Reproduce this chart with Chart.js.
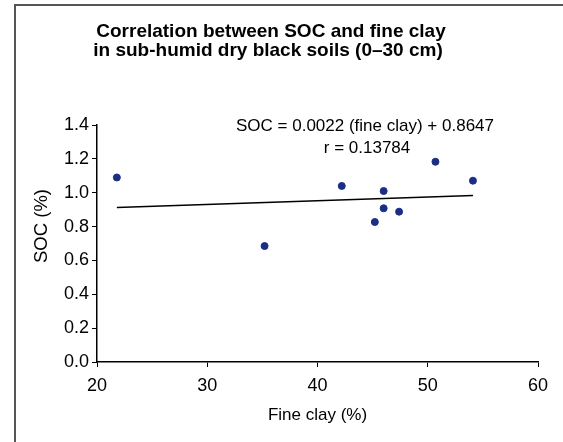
<!DOCTYPE html>
<html>
<head>
<meta charset="utf-8">
<script src="https://cdn.jsdelivr.net/npm/chart.js@4"></script>
<style>
  html, body { margin: 0; padding: 0; background: #fff; }
  #wrap { position: relative; width: 563px; height: 442px; }
</style>
</head>
<body>
<div id="wrap"><canvas id="socChart" width="563" height="442"></canvas></div>
<script>
// Fine clay (%) vs SOC (%) for each soil sample
const fineClay = [21.8, 35.2, 42.2, 45.2, 46.0, 46.0, 47.4, 50.7, 54.1];
const soc = [1.09, 0.685, 1.04, 0.827, 1.01, 0.908, 0.888, 1.183, 1.071];

// Regression: SOC = slope * fine clay + intercept
const fitSlope = 0.0022;
const fitIntercept = 0.8647;
const fitR = 0.13784;

const xTicks = [20, 30, 40, 50, 60];
const yTicks = [0.0, 0.2, 0.4, 0.6, 0.8, 1.0, 1.2, 1.4];

const FONT = "'Liberation Sans', Arial, sans-serif";

const points = fineClay.map(function (x, i) {
  return { x: x, y: soc[i] };
});
const xMin = Math.min.apply(null, fineClay);
const xMax = Math.max.apply(null, fineClay);
const fitLine = [xMin, xMax].map(function (x) {
  return { x: x, y: fitSlope * x + fitIntercept };
});

// Frame, title, equation and the y-axis title
const decorations = {
  id: "decorations",
  afterDraw(chart) {
    const c = chart.ctx;
    c.save();
    c.strokeStyle = "#555";
    c.lineWidth = 2;
    c.beginPath();
    c.moveTo(15, 442);
    c.lineTo(15, 5);
    c.lineTo(563, 5);
    c.stroke();

    c.fillStyle = "#000";
    c.textAlign = "center";
    c.textBaseline = "alphabetic";
    c.font = "bold 19px " + FONT;
    c.fillText("Correlation between SOC and fine clay", 271, 37);
    c.fillText("in sub-humid dry black soils (0\u201330 cm)", 268, 56);

    c.font = "17px " + FONT;
    c.fillText("SOC = " + fitSlope.toFixed(4) + " (fine clay) + " + fitIntercept.toFixed(4), 365, 131);
    c.fillText("r = " + fitR, 367, 153);

    c.font = "18.5px " + FONT;
    c.translate(47, 226);
    c.rotate(-Math.PI / 2);
    c.fillText("SOC (%)", 0, 0);
    c.restore();
  }
};

const ctx = document.getElementById("socChart").getContext("2d");
const socChart = new Chart(ctx, {
  type: "scatter",
  data: {
    datasets: [
      {
        label: "Samples",
        data: points,
        backgroundColor: "#1c2d86",
        borderColor: "#1c2d86",
        pointRadius: 3.5,
        pointHoverRadius: 3.5,
      },
      {
        label: "Linear fit",
        type: "line",
        data: fitLine,
        borderColor: "#000",
        borderWidth: 1.5,
        pointRadius: 0,
        fill: false,
      },
    ],
  },
  options: {
    responsive: false,
    animation: false,
    layout: { padding: { top: 125, right: 25, left: 0, bottom: 0 } },
    scales: {
      x: {
        type: "linear",
        min: 20,
        max: 60,
        afterBuildTicks: function (axis) {
          axis.ticks = xTicks.map(function (v) { return { value: v }; });
        },
        afterFit: function (axis) { axis.height = 80; },
        grid: {
          drawOnChartArea: false,
          drawTicks: true,
          tickLength: 5,
          tickColor: "#000",
          tickWidth: 1,
        },
        border: { color: "#000", width: 1.5 },
        ticks: {
          color: "#000",
          padding: 8,
          maxRotation: 0,
          font: { family: FONT, size: 18 },
        },
        title: {
          display: true,
          text: "Fine clay (%)",
          color: "#000",
          padding: { top: 2, bottom: 16 },
          font: { family: FONT, size: 17 },
        },
      },
      y: {
        type: "linear",
        min: 0,
        max: 1.4,
        afterBuildTicks: function (axis) {
          axis.ticks = yTicks.map(function (v) { return { value: v }; });
        },
        afterFit: function (axis) { axis.width = 97; },
        grid: {
          drawOnChartArea: false,
          drawTicks: true,
          tickLength: 5,
          tickColor: "#000",
          tickWidth: 1,
        },
        border: { color: "#000", width: 1.5 },
        ticks: {
          color: "#000",
          padding: 3,
          font: { family: FONT, size: 18 },
          callback: function (v) { return v.toFixed(1); },
        },
      },
    },
    plugins: {
      legend: { display: false },
      tooltip: { enabled: false },
    },
  },
  plugins: [decorations],
});
</script>
</body>
</html>
